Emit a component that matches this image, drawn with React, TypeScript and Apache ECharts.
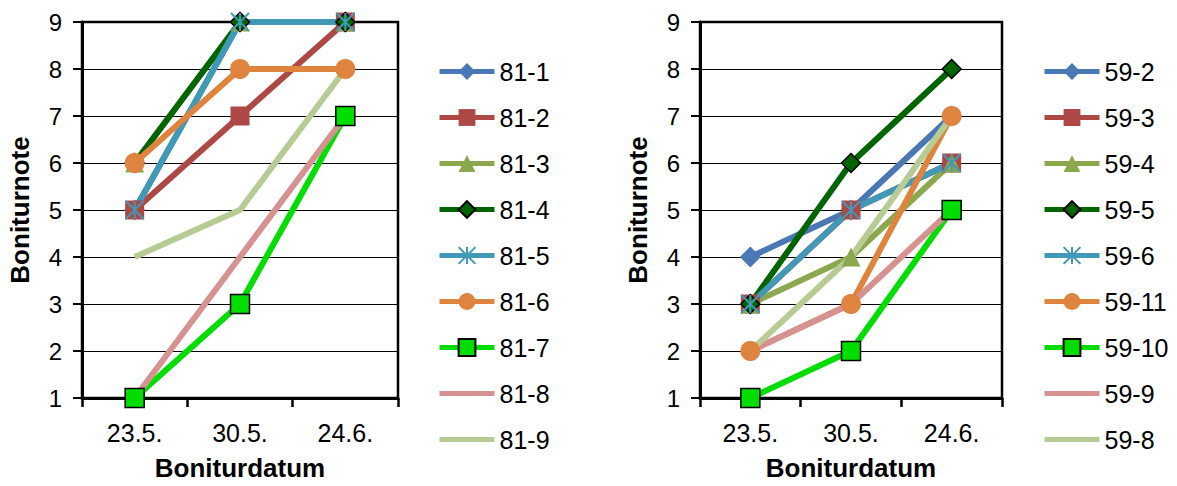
import React, { useEffect, useRef } from "react";
import * as echarts from "echarts";

// Boniturdaten
const dates = ["23.5.", "30.5.", "24.6."];

const names81 = ["81-1", "81-2", "81-3", "81-4", "81-5", "81-6", "81-7", "81-8", "81-9"];
const v81_1 = [5, 9, 9];
const v81_2 = [5, 7, 9];
const v81_3 = [6, 9, 9];
const v81_4 = [6, 9, 9];
const v81_5 = [5, 9, 9];
const v81_6 = [6, 8, 8];
const v81_7 = [1, 3, 7];
const v81_8 = [1, 4, 7];
const v81_9 = [4, 5, 8];

const names59 = ["59-2", "59-3", "59-4", "59-5", "59-6", "59-11", "59-10", "59-9", "59-8"];
const v59_2 = [4, 5, 7];
const v59_3 = [3, 5, 6];
const v59_4 = [3, 4, 6];
const v59_5 = [3, 6, 8];
const v59_6 = [3, 5, 6];
const v59_11 = [2, 3, 7];
const v59_10 = [1, 2, 5];
const v59_9 = [2, 3, 5];
const v59_8 = [2, 4, 7];

const yTicks = [1, 2, 3, 4, 5, 6, 7, 8, 9];

const FONT = "'Liberation Sans', Arial, sans-serif";
const ASTERISK = "path://M0,0L2,2M0,2L2,0M1,0L1,2";
const LINE_W = 6;
// plain bar used as legend icon for series drawn without markers
const BAR = "path://M0,0H55V5H0Z";

type Style = { color: string; symbol: string; size: number; border?: string; bw?: number };

// one style per position in each group
const styles: Style[] = [
  { color: "#4A78B4", symbol: "diamond", size: 21 },
  { color: "#AE4845", symbol: "rect", size: 19 },
  { color: "#8CA84F", symbol: "triangle", size: 19 },
  { color: "#006400", symbol: "diamond", size: 19, border: "#000", bw: 1.5 },
  { color: "#3F99B7", symbol: ASTERISK, size: 18, border: "#3F99B7", bw: 2 },
  { color: "#DE843F", symbol: "circle", size: 20 },
  { color: "#00DD00", symbol: "rect", size: 19, border: "#000", bw: 1.5 },
  { color: "#D59290", symbol: "none", size: 0 },
  { color: "#B7CC95", symbol: "none", size: 0 },
];

const makeSeries = (names: string[], values: number[][], axisIndex: number) =>
  names.map((name, i) => {
    const st = styles[i];
    return {
      type: "line",
      name,
      xAxisIndex: axisIndex,
      yAxisIndex: axisIndex,
      data: values[i],
      symbol: st.symbol,
      symbolSize: st.size,
      showSymbol: st.symbol !== "none",
      lineStyle: { color: st.color, width: LINE_W },
      itemStyle: {
        color: st.color,
        borderColor: st.border ?? st.color,
        borderWidth: st.bw ?? 0,
      },
      z: 2,
    };
  });

const axisText = { fontFamily: FONT, fontSize: 25, color: "#000" };

const xAxisFor = (gridIndex: number) => ({
  type: "category",
  gridIndex,
  data: dates,
  boundaryGap: true,
  name: "Boniturdatum",
  nameLocation: "middle",
  nameGap: 57,
  nameTextStyle: { ...axisText, fontWeight: "bold", fontSize: 26 },
  axisLine: { show: true, lineStyle: { color: "#000", width: 3 } },
  axisTick: { show: true, length: 9, lineStyle: { color: "#000", width: 2.5 } },
  axisLabel: { ...axisText, margin: 22 },
  splitLine: { show: false },
});

const yAxisFor = (gridIndex: number) => ({
  type: "value",
  gridIndex,
  min: yTicks[0],
  max: yTicks[yTicks.length - 1],
  interval: 1,
  name: "Boniturnote",
  nameLocation: "middle",
  nameGap: 49,
  nameTextStyle: { ...axisText, fontWeight: "bold", fontSize: 26 },
  axisLine: { show: true, lineStyle: { color: "#000", width: 3 } },
  axisTick: { show: true, length: 9, lineStyle: { color: "#000", width: 2 } },
  axisLabel: { ...axisText, fontSize: 24, margin: 20 },
  splitLine: { show: true, lineStyle: { color: "#000", width: 1 } },
});

const legendFor = (names: string[], left: number) => ({
  orient: "vertical",
  left,
  top: 59,
  bottom: 0,
  padding: 0,
  data: names.map((name, i) => (styles[i].symbol === "none" ? { name, icon: BAR } : { name })),
  itemWidth: 55,
  itemHeight: 21,
  itemGap: 21,
  selectedMode: false,
  lineStyle: { width: 5 },
  textStyle: { ...axisText, fontSize: 25, lineHeight: 25 },
});

export default function App() {
  const ref = useRef<HTMLDivElement>(null);

  useEffect(() => {
    if (!ref.current) return;
    const chart = echarts.init(ref.current, undefined, { renderer: "svg" });
    chart.setOption({
      animation: false,
      backgroundColor: "#fff",
      grid: [
        { left: 82, top: 22, width: 316, height: 381, show: true, borderColor: "#000", borderWidth: 2.5, containLabel: false },
        { left: 700, top: 22, width: 302, height: 381, show: true, borderColor: "#000", borderWidth: 2.5, containLabel: false },
      ],
      xAxis: [xAxisFor(0), xAxisFor(1)],
      yAxis: [yAxisFor(0), yAxisFor(1)],
      legend: [legendFor(names81, 437), legendFor(names59, 1042)],
      series: [
        ...makeSeries(names81, [v81_1, v81_2, v81_3, v81_4, v81_5, v81_6, v81_7, v81_8, v81_9], 0),
        ...makeSeries(names59, [v59_2, v59_3, v59_4, v59_5, v59_6, v59_11, v59_10, v59_9, v59_8], 1),
      ],
    });
    return () => chart.dispose();
  }, []);

  return <div ref={ref} style={{ position: "absolute", left: 0, top: 0, width: 1177, height: 486 }} />;
}
